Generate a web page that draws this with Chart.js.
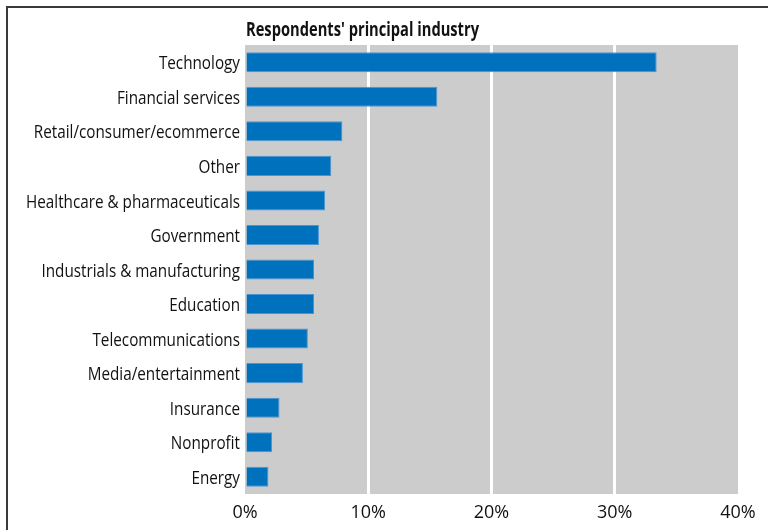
<!DOCTYPE html>
<html>
<head>
<meta charset="utf-8">
<script src="https://cdn.jsdelivr.net/npm/chart.js@4/dist/chart.umd.min.js"></script>
<style>
    html, body { margin: 0; padding: 0; background: #fff; }
    #wrap { position: relative; width: 768px; height: 530px; }
    #frame {
        position: absolute; left: 6px; top: 6px; right: -10px; bottom: -10px;
        border-top: 2px solid #3a3a3a; border-left: 2px solid #3a3a3a;
        pointer-events: none;
    }
    canvas { position: absolute; left: 0; top: 0; }
</style>
</head>
<body>
<div id="wrap">
    <div id="frame"></div>
    <canvas id="industryChart" width="768" height="530"></canvas>
</div>
<script>
// Survey answers: share of respondents per principal industry (%)
const industries = [
    'Technology',
    'Financial services',
    'Retail/consumer/ecommerce',
    'Other',
    'Healthcare & pharmaceuticals',
    'Government',
    'Industrials & manufacturing',
    'Education',
    'Telecommunications',
    'Media/entertainment',
    'Insurance',
    'Nonprofit',
    'Energy'
];
const shares = [33.4, 15.6, 7.9, 7.0, 6.5, 6.0, 5.6, 5.6, 5.1, 4.7, 2.8, 2.2, 1.9];
const xTicks = [0, 10, 20, 30, 40];
const chartTitle = "Respondents' principal industry";

const FONT = "'Open Sans', Lato, sans-serif";
const LABEL_WIDTH = 214;   // widest category label, px
const TITLE_WIDTH = 233;

// Narrow text: squeeze horizontally so long labels fit the left gutter
function drawSqueezed(ctx, text, x, y, sx, align) {
    ctx.save();
    ctx.translate(x, y);
    ctx.scale(sx, 1);
    ctx.textAlign = align;
    ctx.fillText(text, 0, 0);
    ctx.restore();
}

// Gray panel behind the bars, category labels and the heading
const panelPlugin = {
    id: 'panel',
    beforeDraw(chart) {
        const { ctx, chartArea: a } = chart;
        ctx.save();
        ctx.fillStyle = '#cccccc';
        ctx.fillRect(a.left, a.top, a.right - a.left, a.bottom - a.top);
        ctx.restore();
    },
    afterDraw(chart) {
        const { ctx, chartArea: a } = chart;
        const yScale = chart.scales.y;
        ctx.save();
        ctx.fillStyle = '#111';
        ctx.textBaseline = 'middle';
        ctx.font = `18px ${FONT}`;
        const widest = Math.max(...industries.map(t => ctx.measureText(t).width));
        const sx = Math.min(1, LABEL_WIDTH / widest);
        industries.forEach((label, i) => {
            drawSqueezed(ctx, label, a.left - 5, yScale.getPixelForTick(i) + 2, sx, 'right');
        });

        ctx.font = `bold 19px ${FONT}`;
        ctx.textBaseline = 'alphabetic';
        const tsx = Math.min(1, TITLE_WIDTH / ctx.measureText(chartTitle).width);
        drawSqueezed(ctx, chartTitle, a.left + 1, 36, tsx, 'left');
        ctx.restore();
    }
};

new Chart(document.getElementById('industryChart').getContext('2d'), {
    type: 'bar',
    data: {
        labels: industries,
        datasets: [{
            data: shares,
            backgroundColor: '#0071bc',
            borderColor: '#4b94d2',
            borderWidth: 1,
            barPercentage: 0.58,
            categoryPercentage: 1.0
        }]
    },
    options: {
        indexAxis: 'y',
        responsive: false,
        animation: false,
        layout: { padding: { top: 45, right: 30, bottom: 0, left: 0 } },
        plugins: {
            legend: { display: false },
            tooltip: { enabled: false }
        },
        scales: {
            x: {
                min: 0,
                max: 40,
                afterBuildTicks: scale => { scale.ticks = xTicks.map(v => ({ value: v })); },
                afterFit: scale => { scale.height = 36; },
                border: { display: false },
                grid: {
                    drawTicks: false,
                    lineWidth: 3,
                    color: ctx => (ctx.tick && (ctx.tick.value === 0 || ctx.tick.value === 40) ? 'rgba(0,0,0,0)' : '#ffffff')
                },
                ticks: {
                    padding: 8,
                    color: '#111',
                    font: { family: FONT, size: 18 },
                    callback: v => `${v}%`
                }
            },
            y: {
                afterFit: scale => { scale.width = 245; },
                border: { display: false },
                grid: { display: false, drawTicks: false },
                ticks: { display: false }
            }
        }
    },
    plugins: [panelPlugin]
});
</script>
</body>
</html>
